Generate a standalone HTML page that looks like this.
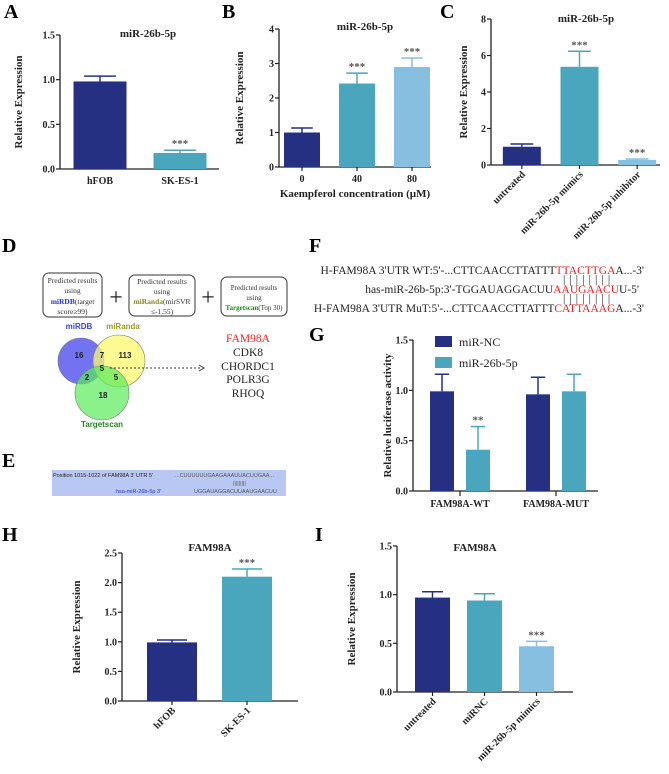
<!DOCTYPE html>
<html><head><meta charset="utf-8">
<style>
html,body{margin:0;padding:0;background:#fff;overflow:hidden;}
svg{display:block;font-family:"Liberation Serif",serif;}
.tk{font-size:10px;font-weight:bold;fill:#222;}
.ttl{font-size:11px;font-weight:bold;fill:#222;}
.pl{font-size:20px;font-weight:bold;fill:#000;}
.seq{font-size:11.5px;fill:#222;}
</style></head>
<body>
<svg id="fig" width="669" height="774" viewBox="0 0 669 774" xmlns="http://www.w3.org/2000/svg">
<g>
<text class="pl" x="4" y="18">A</text>
<text class="pl" x="222" y="18">B</text>
<text class="pl" x="440" y="18">C</text>
<text class="pl" x="2" y="252">D</text>
<text class="pl" x="2" y="467">E</text>
<text class="pl" x="309" y="252">F</text>
<text class="pl" x="309" y="341">G</text>
<text class="pl" x="2" y="541">H</text>
<text class="pl" x="315" y="541">I</text>
</g>

<!-- Panel D -->
<g font-family="Liberation Serif, serif">
<rect x="43" y="273" width="59" height="44" rx="6" fill="#fff" stroke="#333"/>
<text x="72.5" y="283" font-size="7.5" text-anchor="middle" fill="#333">Predicted results</text>
<text x="72.5" y="293" font-size="7.5" text-anchor="middle" fill="#333">using</text>
<text x="72.5" y="304" font-size="7.5" text-anchor="middle" fill="#333"><tspan fill="#2233dd" font-weight="bold">miRDB</tspan>(target</text>
<text x="72.5" y="314" font-size="7.5" text-anchor="middle" fill="#333">score≥99)</text>
<text x="116" y="305" font-size="24" text-anchor="middle" fill="#222">+</text>
<rect x="129" y="275" width="66" height="41" rx="6" fill="#fff" stroke="#333"/>
<text x="162" y="284" font-size="7.5" text-anchor="middle" fill="#333">Predicted results</text>
<text x="162" y="294" font-size="7.5" text-anchor="middle" fill="#333">using</text>
<text x="162" y="304" font-size="7.5" text-anchor="middle" fill="#333"><tspan fill="#888822" font-weight="bold">miRanda</tspan>(mirSVR</text>
<text x="162" y="314" font-size="7.5" text-anchor="middle" fill="#333">≤-1.55)</text>
<text x="208" y="305" font-size="24" text-anchor="middle" fill="#222">+</text>
<rect x="221" y="277" width="66" height="39" rx="6" fill="#fff" stroke="#333"/>
<text x="254" y="290" font-size="7" text-anchor="middle" fill="#333">Predicted results</text>
<text x="254" y="300" font-size="7" text-anchor="middle" fill="#333">using</text>
<text x="254" y="310" font-size="7" text-anchor="middle" fill="#333"><tspan fill="#228822" font-weight="bold">Targetscan</tspan>(Top 30)</text>
<text x="79" y="329" font-size="8" font-family="Liberation Sans, sans-serif" font-weight="bold" text-anchor="middle" fill="#3344ee">miRDB</text>
<text x="123" y="329" font-size="8" font-family="Liberation Sans, sans-serif" font-weight="bold" text-anchor="middle" fill="#999922">miRanda</text>
<circle cx="81" cy="361" r="23" fill="rgba(100,100,240,0.9)" stroke="#777" stroke-width="0.6"/>
<circle cx="119" cy="361" r="26" fill="rgba(250,250,110,0.75)" stroke="#777" stroke-width="0.6"/>
<circle cx="102" cy="393" r="27" fill="rgba(90,235,90,0.7)" stroke="#777" stroke-width="0.6"/>
<g font-size="8" font-weight="bold" font-family="Liberation Sans, sans-serif" text-anchor="middle" fill="#222">
<text x="79" y="358">16</text><text x="102" y="358">7</text><text x="125" y="358">113</text>
<text x="102" y="371">5</text><text x="87" y="380">2</text><text x="116" y="380">5</text><text x="103" y="398">18</text>
</g>
<text x="102" y="427" font-size="8" font-family="Liberation Sans, sans-serif" font-weight="bold" text-anchor="middle" fill="#228822">Targetscan</text>
<line x1="110" y1="368" x2="201" y2="368" stroke="#333" stroke-dasharray="2,2"/>
<path d="M199 365 L204 368 L199 371" fill="none" stroke="#333"/>
<g font-size="11.5" text-anchor="middle" fill="#222">
<text x="248" y="342" fill="#ee2222">FAM98A</text><text x="248" y="356">CDK8</text><text x="248" y="370">CHORDC1</text><text x="248" y="383">POLR3G</text><text x="248" y="397">RHOQ</text>
</g>
</g>

<!-- Panel E -->
<g font-family="Liberation Sans, sans-serif">
<rect x="52" y="470" width="234" height="26" fill="#b9c8f2"/>
<text x="53" y="477" font-size="5.5" fill="#222">Position 1015-1022 of FAM98A 3' UTR 5'</text>
<text x="175" y="477" font-size="5.5" fill="#555">...CUUUUUUGAAGAAAUUACUUGAA...</text>
<text x="233" y="485" font-size="5.5" fill="#555">|||||||||</text>
<text x="116" y="493" font-size="5.5" fill="#2233cc">hsa-miR-26b-5p 3'</text>
<text x="194" y="493" font-size="5.5" fill="#555">UGGAUAGGACUUAAUGAACUU</text>
</g>

<!-- Panel F -->
<g>
<text class="seq" x="644" y="274" text-anchor="end">H-FAM98A 3'UTR WT:5'-...CTTCAACCTTATTT<tspan fill="#ee2222">TTACTTGA</tspan>A...-3'</text>
<text class="seq" x="563" y="283" font-size="9" letter-spacing="4.1">||||||||</text>
<text class="seq" x="639" y="293" text-anchor="end">has-miR-26b-5p:3'-TGGAUAGGACUU<tspan fill="#ee2222">AAUGAACU</tspan>U-5'</text>
<text class="seq" x="563" y="302" font-size="9" letter-spacing="4.1">||||||||</text>
<text class="seq" x="644" y="312" text-anchor="end">H-FAM98A 3'UTR MuT:5'-...CTTCAACCTTATTT<tspan fill="#ee2222">CATTAAAG</tspan>A...-3'</text>
</g>
<g id="charts"></g>
</svg>
<script>
// Panel A
const aCats = ["hFOB","SK-ES-1"];
const aVals = [0.98,0.18];
const aErrs = [0.06,0.03];
const aSig = ["","***"];
const aTicks = [0,0.5,1.0,1.5];
const aTickLabels = ["0.0","0.5","1.0","1.5"];
// Panel B
const bCats = ["0","40","80"];
const bVals = [1.0,2.42,2.9];
const bErrs = [0.13,0.3,0.26];
const bSig = ["","***","***"];
const bTicks = [0,1,2,3,4];
const bTickLabels = ["0","1","2","3","4"];
// Panel C
const cCats = ["untreated","miR-26b-5p mimics","miR-26b-5p inhibitor"];
const cVals = [1.0,5.38,0.28];
const cErrs = [0.15,0.85,0.05];
const cSig = ["","***","***"];
const cTicks = [0,2,4,6,8];
const cTickLabels = ["0","2","4","6","8"];
// Panel G
const gGroups = ["FAM98A-WT","FAM98A-MUT"];
const gSeries = ["miR-NC","miR-26b-5p"];
const gNC = [0.99,0.96];
const gNCErr = [0.17,0.17];
const gMiR = [0.41,0.99];
const gMiRErr = [0.23,0.17];
const gSigMiR = ["**",""];
const gTicks = [0,0.5,1.0,1.5];
const gTickLabels = ["0.0","0.5","1.0","1.5"];
// Panel H
const hCats = ["hFOB","SK-ES-1"];
const hVals = [0.99,2.1];
const hErrs = [0.04,0.13];
const hSig = ["","***"];
const hTicks = [0,0.5,1.0,1.5,2.0,2.5];
const hTickLabels = ["0.0","0.5","1.0","1.5","2.0","2.5"];
// Panel I
const iCats = ["untreated","miRNC","miR-26b-5p mimics"];
const iVals = [0.97,0.94,0.47];
const iErrs = [0.06,0.07,0.05];
const iSig = ["","","***"];
const iTicks = [0,0.5,1.0,1.5];
const iTickLabels = ["0.0","0.5","1.0","1.5"];

const COLS = ["#253083","#4aa6bd","#86bfdf"];
const NS = "http://www.w3.org/2000/svg";
const root = document.getElementById('charts');
function mk(tag, attrs, parent, txt){
  const e = document.createElementNS(NS, tag);
  for (const k in attrs) e.setAttribute(k, attrs[k]);
  if (txt !== undefined) e.textContent = txt;
  parent.appendChild(e);
  return e;
}
function yScale(c){ return v => c.y0 - (v / c.max) * (c.y0 - c.y1); }
function drawAxes(c, g){
  const y = yScale(c);
  const ya = mk('line',{x1:c.ax,y1:c.y1,x2:c.ax,y2:c.y0,stroke:'#222','stroke-width':1.3},g);
  
  
  const xa = mk('line',{x1:c.ax,y1:c.y0,x2:c.axEnd,y2:c.y0,stroke:'#222','stroke-width':1.3},g);
  
  
  c.ticks.forEach((t,i)=>{
    mk('line',{x1:c.ax-4,y1:y(t),x2:c.ax,y2:y(t),stroke:'#222','stroke-width':1.2},g);
    const tl = mk('text',{x:c.ax-5,y:y(t)+3.5,'text-anchor':'end','class':'tk'},g,c.tickLabels[i]);
    
    
  });
  const yt = mk('text',{x:c.ytx,y:(c.y0+c.y1)/2,'text-anchor':'middle','class':'ttl',transform:`rotate(-90 ${c.ytx} ${(c.y0+c.y1)/2})`},g,c.ytitle);
  
  
  if (c.title){
    const tt = mk('text',{x:c.tx,y:c.ty,'text-anchor':'middle','class':'ttl'},g,c.title);
    
    
  }
}
function drawBar(g, x, w, v, err, col, c, sig){
  const y = yScale(c);
  const r = mk('rect',{x:x-w/2,y:y(v),width:w,height:c.y0-y(v),fill:col},g);
  
  
  mk('line',{x1:x,y1:y(v),x2:x,y2:y(v+err),stroke:col,'stroke-width':1.5},g);
  mk('line',{x1:x-w*0.3,y1:y(v+err),x2:x+w*0.3,y2:y(v+err),stroke:col,'stroke-width':1.5},g);
  if (sig){
    const s = mk('text',{x:x,y:y(v+err)-3,'text-anchor':'middle','font-size':11,'font-weight':'bold',fill:'#555'},g,sig);
    
    
  }
}
function barChart(c){
  const g = mk('g',{},root);
  
  
  drawAxes(c,g);
  const n = c.cats.length, step = (c.bR - c.bL)/n;
  c.cats.forEach((cat,i)=>{
    const cx = c.bL + step*(i+0.5);
    drawBar(g, cx, c.bw, c.vals[i], c.errs[i], COLS[i], c, c.sig[i]);
    let t;
    if (c.rot){
      mk('line',{x1:cx,y1:c.y0,x2:cx,y2:c.y0+4,stroke:'#222','stroke-width':1.2},g);
      const ly = c.y0+10;
      t = mk('text',{x:cx+4,y:ly,'text-anchor':'end','class':'tk',transform:`rotate(-45 ${cx+4} ${ly})`},g,cat);
    } else {
      if (c.tickMarks) mk('line',{x1:cx,y1:c.y0,x2:cx,y2:c.y0+4,stroke:'#222','stroke-width':1.2},g);
      t = mk('text',{x:cx,y:c.y0+15,'text-anchor':'middle','class':'tk'},g,cat);
    }
    
    
  });
  if (c.xtitle){
    const xt = mk('text',{x:(c.ax+c.axEnd)/2,y:c.y0+30,'text-anchor':'middle','class':'ttl'},g,c.xtitle);
    
    
  }
}
barChart({name:'chart-a',cats:aCats,vals:aVals,errs:aErrs,sig:aSig,ticks:aTicks,tickLabels:aTickLabels,max:1.5,
  ax:60,axEnd:219,y0:169,y1:35,bL:60,bR:220,bw:53,ytx:22,ytitle:'Relative Expression',title:'miR-26b-5p',tx:148,ty:37});
barChart({name:'chart-b',cats:bCats,vals:bVals,errs:bErrs,sig:bSig,ticks:bTicks,tickLabels:bTickLabels,max:4,tickMarks:true,
  ax:279,axEnd:431,y0:167,y1:29,bL:274.5,bR:439.5,bw:36,ytx:243,ytitle:'Relative Expression',title:'miR-26b-5p',tx:365,ty:30,xtitle:'Kaempferol concentration (µM)'});
barChart({name:'chart-c',cats:cCats,vals:cVals,errs:cErrs,sig:cSig,ticks:cTicks,tickLabels:cTickLabels,max:8,rot:true,
  ax:491,axEnd:660,y0:165,y1:19,bL:493,bR:666,bw:38,ytx:467,ytitle:'Relative Expression',title:'miR-26b-5p',tx:586,ty:22});
barChart({name:'chart-h',cats:hCats,vals:hVals,errs:hErrs,sig:hSig,ticks:hTicks,tickLabels:hTickLabels,max:2.5,rot:true,
  ax:122,axEnd:298,y0:701,y1:553,bL:134.5,bR:284.5,bw:50,ytx:80,ytitle:'Relative Expression',title:'FAM98A',tx:210,ty:551});
barChart({name:'chart-i',cats:iCats,vals:iVals,errs:iErrs,sig:iSig,ticks:iTicks,tickLabels:iTickLabels,max:1.5,rot:true,
  ax:397,axEnd:573,y0:692,y1:546,bL:406.5,bR:562.5,bw:35,ytx:355,ytitle:'Relative Expression',title:'FAM98A',tx:475,ty:551});

// Panel G grouped
(function(){
  const c = {ticks:gTicks,tickLabels:gTickLabels,max:1.5,ax:413,axEnd:598,y0:491,y1:340,ytx:391,ytitle:'Relative luciferase activity'};
  const g = mk('g',{},root);
  
  
  drawAxes(c,g);
  const bL = 412, bR = 604, step = (bR-bL)/gGroups.length, bw = 24, off = 18;
  gGroups.forEach((grp,i)=>{
    const cx = bL + step*(i+0.5);
    drawBar(g, cx-off, bw, gNC[i], gNCErr[i], COLS[0], c, '');
    drawBar(g, cx+off, bw, gMiR[i], gMiRErr[i], COLS[1], c, gSigMiR[i]);
    mk('line',{x1:cx,y1:c.y0,x2:cx,y2:c.y0+5,stroke:'#222','stroke-width':1.2},g);
    const t = mk('text',{x:cx,y:c.y0+16,'text-anchor':'middle','class':'tk'},g,grp);
    
    
  });
  gSeries.forEach((s,i)=>{
    const lg = mk('g',{},g);
    
    
    mk('rect',{x:435,y:336+i*21,width:17,height:11,fill:COLS[i]},lg);
    mk('text',{x:459,y:346+i*21,'font-size':12,fill:'#222'},lg,s);
  });
})();
</script>
</body></html>
